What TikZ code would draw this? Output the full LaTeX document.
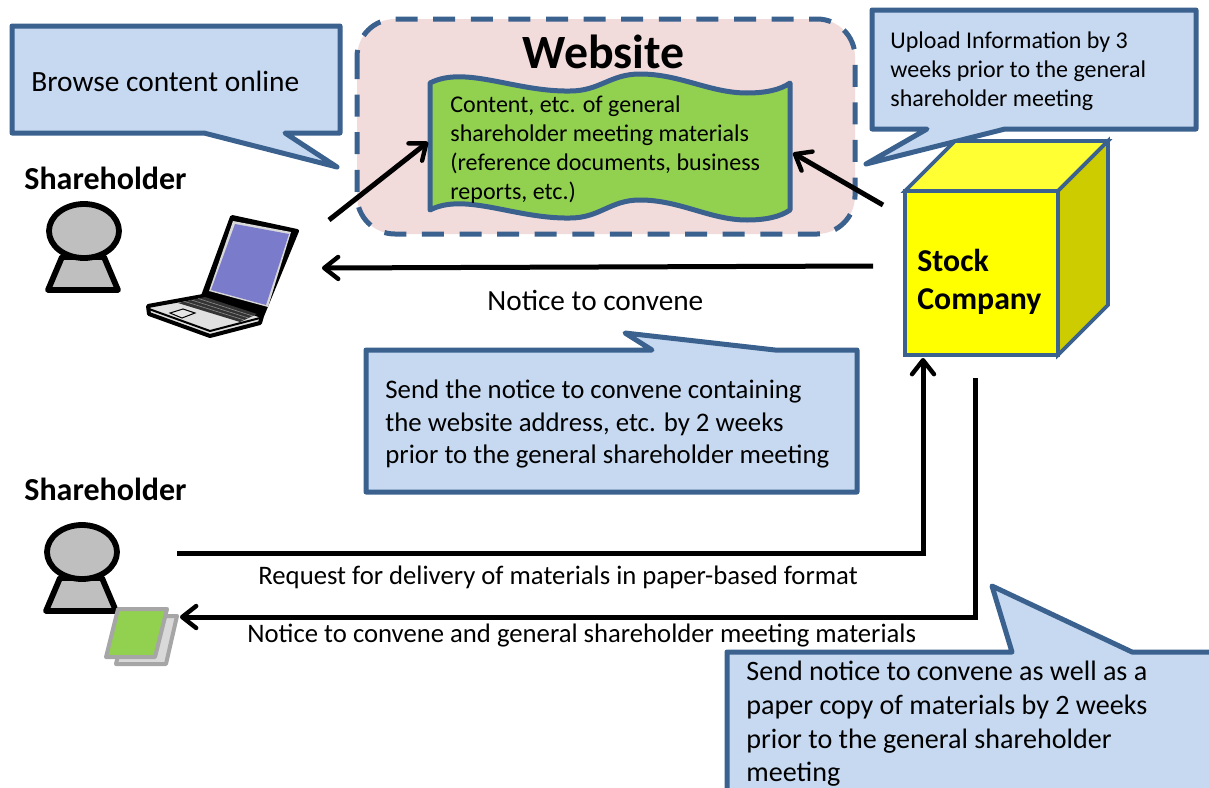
\documentclass[tikz,border=0pt]{standalone}
\usepackage{fontspec}
\setmainfont{Carlito}
\usetikzlibrary{positioning,arrows.meta,calc}
\definecolor{edgeblue}{HTML}{3B618F}
\definecolor{calloutblue}{HTML}{C6D9F1}
\definecolor{sitepink}{HTML}{F2DCDB}
\definecolor{docgreen}{HTML}{92D050}
\definecolor{screenblue}{HTML}{7A7CCB}
\definecolor{boxfront}{HTML}{FFFF00}
\definecolor{boxtop}{HTML}{FFFF33}
\definecolor{boxside}{HTML}{CCCC00}
\tikzset{
    on grid,
    x=0.5pt,
    y=-0.5pt,
    callout/.style = {
        draw=edgeblue,
        fill=calloutblue,
        line width=2.5pt,
        line join=round
    },
    arrowline/.style = {
        draw,
        line width=2.5pt,
        line join=miter,
        -{Straight Barb[length=7pt,width=11pt,line width=2.2pt,round]}
    },
    cubeface/.style = {
        draw=edgeblue,
        line width=1.8pt,
        line join=miter
    },
    txt/.style = {
        inner sep=0pt,
        anchor=west,
        align=left
    },
    small/.style = {
        txt,
        font=\fontsize{12}{14.6}\selectfont
    },
    medium/.style = {
        txt,
        font=\fontsize{13.4}{16.2}\selectfont
    },
    heading/.style = {
        txt,
        font=\fontsize{16}{19}\selectfont\bfseries
    },
    person/.pic = {
        \draw[line width=2.9pt, line join=round, fill=black!25] (-22,26) -- (-36,59) -- (34,59) -- (20,26) -- cycle;
        \draw[line width=2.9pt, fill=black!25] (0,0) ellipse (35 and 27);
    },
}
\begin{document}
\begin{tikzpicture}
    \path[use as bounding box, clip] (0,0) rectangle (1209,787);

    % website panel and document
    \path[draw=edgeblue, fill=sitepink, line width=2.5pt, dash pattern=on 11pt off 7.8pt, rounded corners=19pt] (357,19) rectangle (855,234);
    \path[draw=edgeblue, fill=docgreen, line width=2.5pt, line join=round]
        (430,83) .. controls (465,65) and (515,92) .. (570,91) .. controls (600,91) and (610,74) .. (640,74)
        .. controls (680,74) and (710,93) .. (747,93) .. controls (765,93) and (780,90) .. (790,83)
        -- (790,210) .. controls (780,217) and (765,220) .. (747,220) .. controls (710,220) and (680,200) .. (640,200)
        .. controls (610,200) and (600,218) .. (570,218) .. controls (515,219) and (465,192) .. (430,210) -- cycle;
    \node[txt, font=\fontsize{23.9}{27}\selectfont\bfseries] (website) at (522,52) {Website};
    \node[small] (content) at (450,149.5) {Content, etc. of general\\shareholder meeting materials\\(reference documents, business\\reports, etc.)};

    % callouts
    \path[callout] (12,26) -- (340,26) -- (340,133) -- (285,133) -- (337,167) -- (204,133) -- (12,133) -- cycle;
    \path[callout] (872,10) -- (1196,10) -- (1196,129) -- (1005,129) -- (866,164) -- (927,129) -- (872,129) -- cycle;
    \path[callout] (366,350) -- (652,350) -- (625,333) -- (775,350) -- (857,350) -- (857,492) -- (366,492) -- cycle;
    \path[callout] (727,652) -- (1012,652) -- (992,586) -- (1132,652) -- (1225,652) -- (1225,800) -- (727,800) -- cycle;
    \node[medium, font=\fontsize{14.7}{17}\selectfont] (browse) at (31,81) {Browse content online};
    \node[small] (upload) at (890,71.5) {Upload Information by 3\\weeks prior to the general\\shareholder meeting};
    \node[medium] (sendnotice) at (385,424) {Send the notice to convene containing\\the website address, etc. by 2 weeks\\prior to the general shareholder meeting};
    \node[medium, font=\fontsize{14.05}{16.8}\selectfont] (sendpaper) at (746,724) {Send notice to convene as well as a\\paper copy of materials by 2 weeks\\prior to the general shareholder\\meeting};

    % stock company box
    \path[cubeface, fill=boxtop] (905,191) -- (955,141) -- (1108,141) -- (1058,191) -- cycle;
    \path[cubeface, fill=boxside] (1058,191) -- (1108,141) -- (1108,305) -- (1058,355) -- cycle;
    \node[cubeface, fill=boxfront, minimum width=76.5pt, minimum height=82pt, inner sep=0pt] (company) at (981.5,273) {};
    \node[heading, font=\fontsize{15.9}{19.2}\selectfont\bfseries] (stockname) at (917,282) {Stock\\Company};

    % shareholders
    \node[heading] (shareone) at (24,178) {Shareholder};
    \node[heading, below=155.5pt of shareone.west, anchor=west] (sharetwo) {Shareholder};
    \pic (personone) at (84,231) {person};
    \pic (persontwo) at (82,552) {person};

    % laptop
    \path[draw, fill=black, line width=2pt, line join=round] (232,217) -- (297,231) -- (262,316) -- (203,296) -- cycle;
    \path[fill=black!15] (233,221) -- (291,232) -- (268,307) -- (209,291) -- cycle;
    \path[fill=screenblue] (235,224) -- (289,234) -- (266,305) -- (211,290) -- cycle;
    \path[draw, fill=black!12, line width=2pt, line join=round] (148,306) -- (203,296) -- (262,316) -- (260,323) -- (210,336) -- (149,314) -- cycle;
    \path[draw, line width=1pt] (149,309) -- (210,331) -- (260,318);
    \path[fill=black!80] (178,303) -- (205,297) -- (257,314) -- (240,322) -- cycle;
    \foreach \row in {0.25,0.5,0.75}
        \draw[black!45, line width=0.3pt] ($(178,303)!\row!(205,297)$) -- ($(240,322)!\row!(257,314)$);
    \path[draw, fill=black!10, line width=0.5pt] (170,313) -- (183,309) -- (195,313) -- (182,318) -- cycle;

    % papers
    \path[draw=black!35, fill=black!15, line width=2pt, line join=round] (127,616) -- (177,616) -- (166,664) -- (116,664) -- cycle;
    \path[draw=black!35, fill=docgreen, line width=2pt, line join=round] (118,609) -- (167,609) -- (155,657) -- (106,657) -- cycle;

    % labels on the connectors
    \node[medium, font=\fontsize{14.65}{17}\selectfont] (noticelabel) at (487,300.5) {Notice to convene};
    \node[medium, font=\fontsize{13.35}{15}\selectfont] (requestlabel) at (258,577) {Request for delivery of materials in paper-based format};
    \node[medium, font=\fontsize{13.35}{15}\selectfont] (deliverylabel) at (247,636) {Notice to convene and general shareholder meeting materials};

    % ends of the connectors
    \coordinate (laptopout) at (329,220);
    \coordinate (docleft) at (428,142);
    \coordinate (companyout) at (883,205);
    \coordinate (docright) at (793,153);
    \coordinate (noticeout) at (873,266);
    \coordinate (laptopin) at (322,268);
    \coordinate (requestout) at (177,553);
    \coordinate (requestcorner) at (923,553);
    \coordinate (companyin) at (923,358);
    \coordinate (paperout) at (975,378);
    \coordinate (papercorner) at (975,617);
    \coordinate (paperin) at (180,617);

    \path[arrowline] (laptopout) -- (docleft);
    \path[arrowline] (companyout) -- (docright);
    \path[arrowline] (noticeout) -- (laptopin);
    \path[arrowline] (requestout) -- (requestcorner) -- (companyin);
    \path[arrowline] (paperout) -- (papercorner) -- (paperin);
\end{tikzpicture}
\end{document}
